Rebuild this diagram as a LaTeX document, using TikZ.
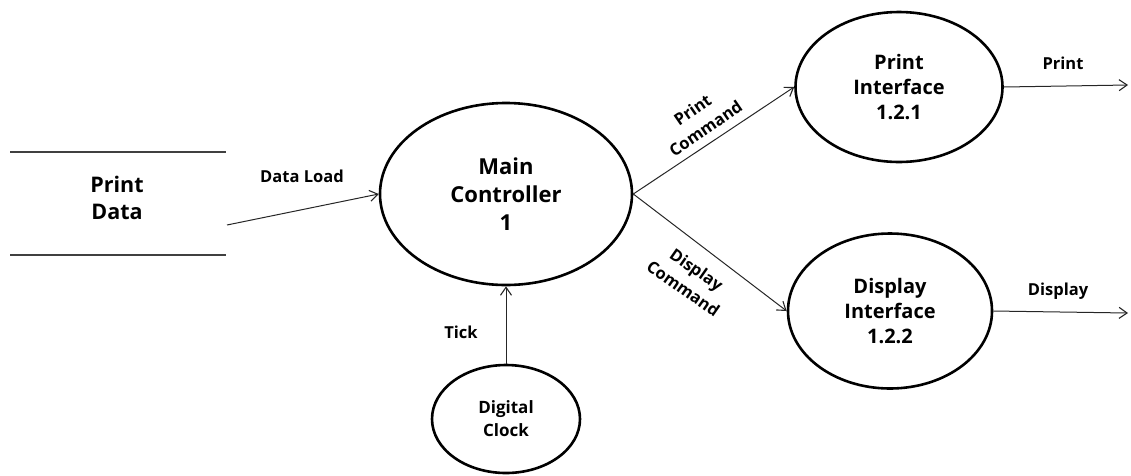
\documentclass[tikz,border=0pt]{standalone}
\usepackage{fontspec}
\setmainfont{Open Sans}
\usetikzlibrary{arrows.meta,shapes.geometric}
\tikzset{
  proc/.style={draw=black, line width=2.6pt, ellipse, inner sep=0pt, align=center, font=\bfseries\fontsize{20}{25}\selectfont},
  bigproc/.style={proc, font=\bfseries\fontsize{22}{28}\selectfont},
  smallproc/.style={proc, font=\bfseries\fontsize{17}{23}\selectfont},
  flow/.style={draw=black!85, line width=1pt, -{Straight Barb[length=8pt,width=11pt,line width=1.1pt]}},
  lbl/.style={font=\bfseries\fontsize{16.5}{21}\selectfont, align=center, inner sep=0pt},
  rlbl/.style={lbl, font=\bfseries\fontsize{16.5}{23}\selectfont},
  storeline/.style={draw=black!75, line width=1.3pt}
}
\begin{document}
\begin{tikzpicture}[x=1pt,y=-1pt]
\useasboundingbox (0,0) rectangle (1131,475);
% data store
\node[font=\bfseries\fontsize{21.5}{27}\selectfont, align=center] (store) at (117,198) {Print\\Data};
\draw[storeline] (10,152) -- (226,152);
\draw[storeline] (10,255) -- (226,255);
\coordinate (ds) at (227,225);
% processes
\node[bigproc, minimum width=252pt, minimum height=182pt] (main) at (506,194) {Main\\Controller\\1};
\node[proc, minimum width=207pt, minimum height=150pt] (pi) at (899,87) {Print\\Interface\\1.2.1};
\node[proc, minimum width=204pt, minimum height=155pt] (di) at (890,311) {Display\\Interface\\1.2.2};
\node[smallproc, minimum width=148pt, minimum height=108pt] (clock) at (506,419) {Digital\\Clock};
\coordinate (pout) at (1128,85);
\coordinate (dout) at (1128,313);
% flows
\draw[flow] (ds) -- (main.west);
\draw[flow] (main.east) -- (pi.west);
\draw[flow] (main.east) -- (di.west);
\draw[flow] (clock.north) -- (main.south);
\draw[flow] (pi.east) -- (pout);
\draw[flow] (di.east) -- (dout);
% labels
\node[lbl] (ldl) at (302,176) {Data Load};
\node[rlbl, rotate=34.5] (lpc) at (699,119) {Print\\Command};
\node[rlbl, rotate=-35] (ldc) at (690,279) {Display\\Command};
\node[lbl] (ltick) at (461,332) {Tick};
\node[lbl] (lp) at (1063,63) {Print};
\node[lbl] (ld) at (1058,291) {Display};
\end{tikzpicture}
\end{document}
